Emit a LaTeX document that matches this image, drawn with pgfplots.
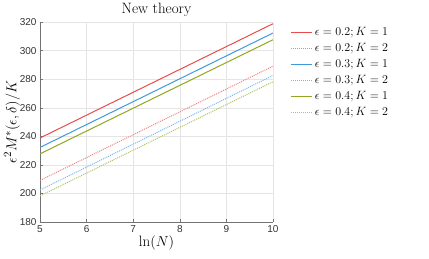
\documentclass[border=0pt]{standalone}
\usepackage{pgfplots}
\pgfplotsset{compat=1.18}
\usepackage{fontspec}
\newfontfamily\ticksf{Liberation Sans}
\definecolor{cR}{rgb}{0.91,0.30,0.30}
\definecolor{cB}{rgb}{0.25,0.60,0.86}
\definecolor{cG}{rgb}{0.56,0.66,0.12}
\begin{document}
\begin{tikzpicture}
\path[use as bounding box] (-40pt,-36pt) rectangle (389pt,222pt);
\begin{axis}[
  scale only axis, width=233pt, height=200pt,
  at={(0,0)}, anchor=south west,
  xmin=5, xmax=10, ymin=180, ymax=320,
  xtick={5,6,7,8,9,10}, ytick={180,200,...,320},
  axis lines*=left,
  axis line style={black!55, line width=0.6pt},
  tick style={black!55},
  tick align=inside,
  major tick length=3pt,
  grid=major, grid style={black!10, line width=0.4pt},
  /pgf/number format/assume math mode=true,
  ticklabel style={font=\ticksf\fontsize{10}{11}\selectfont, text=black!80},
  title={New theory}, title style={font=\fontsize{15}{16}\selectfont, yshift=-4pt},
  xlabel={$\ln(N)$}, xlabel style={font=\fontsize{15}{16}\selectfont, yshift=4pt},
  ylabel={$\epsilon^2M^*(\epsilon,\delta)/K$}, ylabel style={font=\fontsize{15}{16}\selectfont, yshift=-7pt},
  legend style={draw=none, fill=none, at={(1.075,0.99)}, anchor=north west,
    font=\fontsize{13}{14}\selectfont, row sep=0pt, inner sep=0pt,
    nodes={text height=9pt, text depth=3pt, inner sep=2pt}},
  legend cell align=left,
  legend image code/.code={\draw[#1, line width=1.1pt] (0pt,0pt) -- (21pt,0pt);},
]
\addplot[cR, line width=1pt] coordinates {(5,238.8) (10,318.8)};
\addlegendentry{$\epsilon=0.2;K=1$}
\addplot[cR!70, line width=1pt, densely dotted] coordinates {(5,209.1) (10,289.1)};
\addlegendentry{$\epsilon=0.2;K=2$}
\addplot[cB, line width=1pt] coordinates {(5,232.2) (10,312.3)};
\addlegendentry{$\epsilon=0.3;K=1$}
\addplot[cB!70, line width=1pt, densely dotted] coordinates {(5,202.4) (10,282.6)};
\addlegendentry{$\epsilon=0.3;K=2$}
\addplot[cG, line width=1pt] coordinates {(5,227.7) (10,307.6)};
\addlegendentry{$\epsilon=0.4;K=1$}
\addplot[cG!70, line width=1pt, densely dotted] coordinates {(5,198.3) (10,278.2)};
\addlegendentry{$\epsilon=0.4;K=2$}
\end{axis}
\end{tikzpicture}
\end{document}
